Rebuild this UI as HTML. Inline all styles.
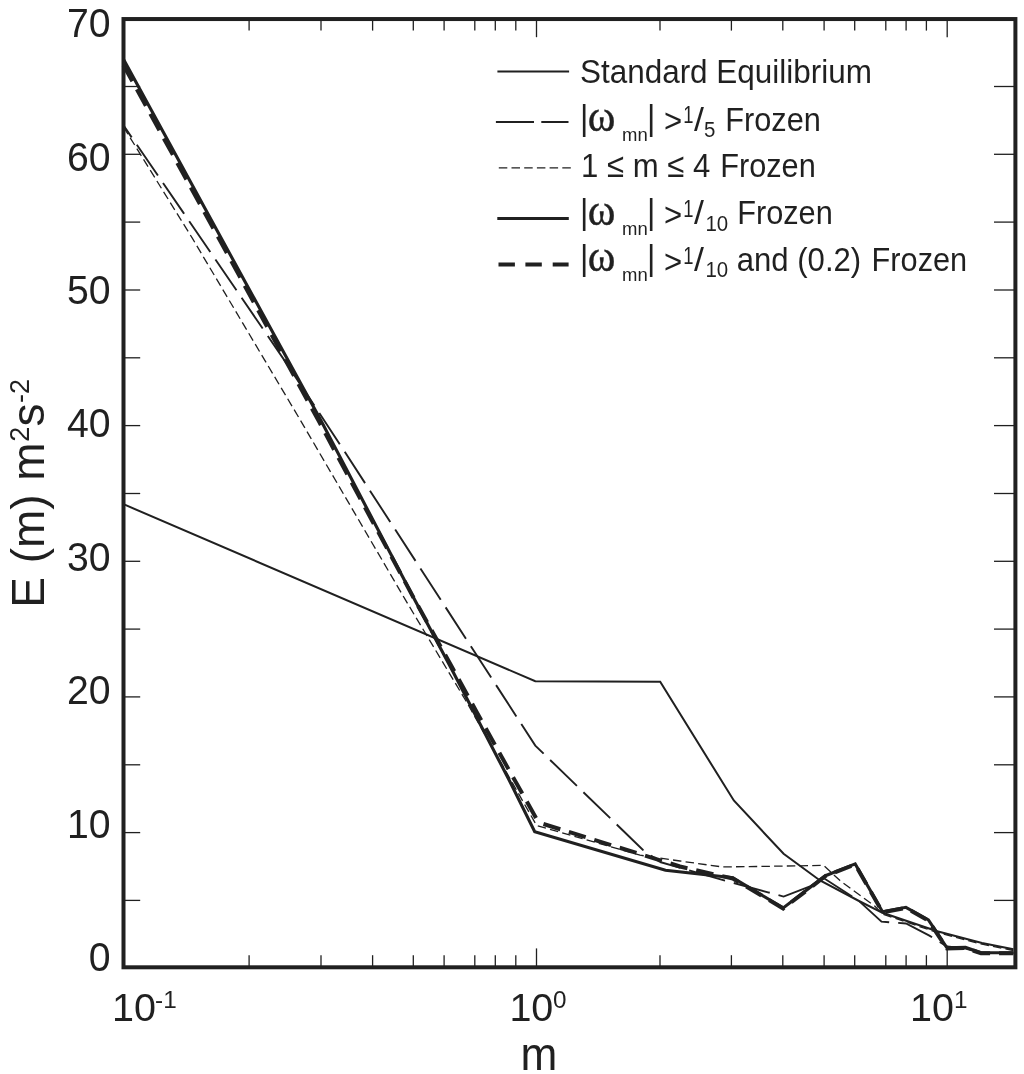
<!DOCTYPE html>
<html lang="en"><head><meta charset="utf-8"><title>E(m) spectrum</title>
<style>html,body{margin:0;padding:0;background:#fff}svg{display:block;filter:grayscale(1)}text{font-family:'Liberation Sans', sans-serif;fill:#231f20}</style></head><body>
<svg width="1024" height="1074" viewBox="0 0 1024 1074">
<rect width="1024" height="1074" fill="#fff"/>
<g stroke="#231f20" stroke-width="1.3" fill="none">
<path d="M123.5 900.4H140.2"/>
<path d="M994.0 900.4H1015.4"/>
<path d="M123.5 832.6H140.2"/>
<path d="M994.0 832.6H1015.4"/>
<path d="M123.5 764.8H140.2"/>
<path d="M994.0 764.8H1015.4"/>
<path d="M123.5 696.9H140.2"/>
<path d="M994.0 696.9H1015.4"/>
<path d="M123.5 629.1H140.2"/>
<path d="M994.0 629.1H1015.4"/>
<path d="M123.5 561.3H140.2"/>
<path d="M994.0 561.3H1015.4"/>
<path d="M123.5 493.5H140.2"/>
<path d="M994.0 493.5H1015.4"/>
<path d="M123.5 425.6H140.2"/>
<path d="M994.0 425.6H1015.4"/>
<path d="M123.5 357.8H140.2"/>
<path d="M994.0 357.8H1015.4"/>
<path d="M123.5 290.0H140.2"/>
<path d="M994.0 290.0H1015.4"/>
<path d="M123.5 222.1H140.2"/>
<path d="M994.0 222.1H1015.4"/>
<path d="M123.5 154.3H140.2"/>
<path d="M994.0 154.3H1015.4"/>
<path d="M123.5 86.5H140.2"/>
<path d="M994.0 86.5H1015.4"/>
<path d="M249.1 967.3V955.2"/>
<path d="M249.1 19.1V30.6"/>
<path d="M321.0 967.3V955.2"/>
<path d="M321.0 19.1V30.6"/>
<path d="M372.6 967.3V955.2"/>
<path d="M372.6 19.1V30.6"/>
<path d="M413.3 967.3V955.2"/>
<path d="M413.3 19.1V30.6"/>
<path d="M444.1 967.3V955.2"/>
<path d="M444.1 19.1V30.6"/>
<path d="M474.8 967.3V955.2"/>
<path d="M474.8 19.1V30.6"/>
<path d="M495.3 967.3V955.2"/>
<path d="M495.3 19.1V30.6"/>
<path d="M515.8 967.3V955.2"/>
<path d="M515.8 19.1V30.6"/>
<path d="M660.0 967.3V955.2"/>
<path d="M660.0 19.1V30.6"/>
<path d="M731.4 967.3V955.2"/>
<path d="M731.4 19.1V30.6"/>
<path d="M782.8 967.3V955.2"/>
<path d="M782.8 19.1V30.6"/>
<path d="M824.1 967.3V955.2"/>
<path d="M824.1 19.1V30.6"/>
<path d="M854.7 967.3V955.2"/>
<path d="M854.7 19.1V30.6"/>
<path d="M885.8 967.3V955.2"/>
<path d="M885.8 19.1V30.6"/>
<path d="M906.1 967.3V955.2"/>
<path d="M906.1 19.1V30.6"/>
<path d="M926.4 967.3V955.2"/>
<path d="M926.4 19.1V30.6"/>
<path d="M536.5 967.3V948.4"/>
<path d="M536.5 19.1V37.2"/>
<path d="M947.2 967.3V948.4"/>
<path d="M947.2 19.1V37.2"/>
</g>
<g fill="none" stroke="#231f20" stroke-linejoin="miter" stroke-miterlimit="10">
<path stroke-width="2" d="M123.5 504.2 L535.3 681.2 L660.2 681.8 L733.8 800.5 L783.6 853.8 L820.0 880.5 L859.0 901.0 L882.5 912.8 L937.2 931.3 L982.0 943.0 L1013.4 949.3"/>
<path stroke-width="1.9" stroke-dasharray="37.3 9.05" stroke-dashoffset="22.8" d="M123.5 125.4 L183.5 212.9 L286.0 362.6 L339.6 443.9 L427.9 580.0 L535.3 745.6 L643.0 849.9 L660.0 862.0"/>
<path stroke-width="1.9" stroke-dasharray="37.3 9.05" stroke-dashoffset="16.0" d="M660.0 862.0 L725.0 880.6 L768.0 892.3 L783.6 896.6 L810.0 886.4 L823.6 878.0 L859.0 901.0 L881.5 921.6 L906.0 923.5 L929.4 935.6 L947.0 946.5 L965.5 948.5 L981.0 953.0 L1013.4 953.0"/>
<path stroke-width="1.3" stroke-dasharray="8.5 4.2" d="M123.5 127.0 L192.3 238.2 L299.2 418.2 L405.0 599.2 L466.0 701.0 L536.6 825.5 L640.0 855.2 L680.0 861.0 L722.0 866.9 L757.0 866.5 L823.6 865.4 L840.0 880.6 L874.7 906.0 L882.5 914.0 L937.2 932.5 L982.0 944.2 L1013.4 950.5"/>
<path stroke-width="3.1" d="M123.5 59.2 L222.5 240.5 L320.7 420.0 L414.8 600.0 L453.0 671.8 L509.1 780.0 L534.7 831.7 L665.5 870.3 L732.8 877.7 L783.2 907.9 L825.5 875.7 L855.2 863.9 L882.5 911.8 L905.9 907.3 L928.4 920.0 L947.0 947.9 L965.5 947.3 L981.0 952.8 L1013.4 952.8"/>
<path stroke-width="4.0" stroke-dasharray="18.8 9.2" stroke-dashoffset="0.4" d="M123.5 65.2 L221.0 242.3 L318.9 421.3 L361.0 500.0 L414.8 600.0 L451.4 666.0 L477.2 713.0 L504.5 762.0 L538.6 822.5"/>
<path stroke-width="4.0" stroke-dasharray="17.6 9.0" stroke-dashoffset="21.5" d="M538.6 822.5 L680.0 866.5 L732.8 878.5 L783.2 908.5 L825.5 876.0 L855.2 864.5 L882.5 912.2 L905.9 908.0 L928.4 920.5 L947.0 948.5 L965.5 948.0 L981.0 953.2 L1013.4 953.2"/>
</g>
<rect x="123.50" y="19.05" width="891.90" height="948.25" fill="none" stroke="#231f20" stroke-width="4.0"/>
<text transform="translate(110.7,37.2) scale(0.972,1)" font-size="40.4" text-anchor="end">70</text>
<text transform="translate(110.7,170.6) scale(0.972,1)" font-size="40.4" text-anchor="end">60</text>
<text transform="translate(110.7,304.0) scale(0.972,1)" font-size="40.4" text-anchor="end">50</text>
<text transform="translate(110.7,437.4) scale(0.972,1)" font-size="40.4" text-anchor="end">40</text>
<text transform="translate(110.7,570.8) scale(0.972,1)" font-size="40.4" text-anchor="end">30</text>
<text transform="translate(110.7,704.2) scale(0.972,1)" font-size="40.4" text-anchor="end">20</text>
<text transform="translate(110.7,837.6) scale(0.972,1)" font-size="40.4" text-anchor="end">10</text>
<text transform="translate(110.7,971.0) scale(0.972,1)" font-size="40.4" text-anchor="end">0</text>
<text x="112.0" y="1021.2" font-size="39.5">10</text>
<text x="155.1" y="1007.9" font-size="24.3">-1</text>
<text x="509.4" y="1021.2" font-size="39.5">10</text>
<text x="553.0" y="1007.9" font-size="24.3">0</text>
<text x="910.0" y="1021.2" font-size="39.5">10</text>
<text x="954.0" y="1007.9" font-size="24.3">1</text>
<text transform="translate(520.4,1070.4) scale(0.97,1)" font-size="45.6">m</text>
<g transform="translate(0,606.8) rotate(-90)">
<text x="-1.0" y="43.6" font-size="46">E</text>
<text x="43.5" y="43.6" font-size="46">(m)</text>
<text x="126.0" y="43.6" font-size="46">m</text>
<text x="165.0" y="29.0" font-size="27">2</text>
<text x="180.4" y="43.6" font-size="46">s</text>
<text x="203.9" y="29.0" font-size="27">-2</text>
</g>
<g fill="none" stroke="#231f20">
<path stroke-width="2" d="M497.4 71.6H569.1"/>
<path stroke-width="1.9" d="M495.9 122H534M541.3 122H568.5"/>
<path stroke-width="1.3" stroke-dasharray="8.5 4.2" d="M498.8 167.8H571.7"/>
<path stroke-width="3" d="M497.3 218.6H568.8"/>
<path stroke-width="4.1" d="M498.5 264.5H514.9M525.4 264.5H541.8M552.7 264.5H568.6"/>
</g>
<text transform="translate(579.9,83.2) scale(0.926,1.000)" font-size="34.0">Standard Equilibrium</text>
<text transform="translate(579.9,130.1) scale(0.915,1.000)" font-size="35.1">|</text>
<text transform="translate(587.8,130.9) scale(0.965,1.000)" font-size="43.5" style="font-family:'Liberation Serif', serif" stroke="#231f20" stroke-width="0.45">&#969;</text>
<text x="622.0" y="141.1" font-size="18.5">mn</text>
<text transform="translate(647.1,130.1) scale(0.915,1.000)" font-size="35.1">|</text>
<text transform="translate(664.0,132.4) scale(0.915,1.000)" font-size="34.0">&gt;</text>
<text transform="translate(683.2,123.2) scale(0.800,1.000)" font-size="23.0">1</text>
<text transform="translate(694.1,130.6) scale(1.050,1.000)" font-size="34.0">/</text>
<text transform="translate(703.9,137.0) scale(0.930,1.000)" font-size="22.0">5</text>
<text transform="translate(725.3,130.6) scale(0.903,1.000)" font-size="34.0">Frozen</text>
<text transform="translate(581.0,176.6) scale(0.915,1.000)" font-size="34.0">1 ≤ m ≤ 4</text>
<text transform="translate(720.2,176.6) scale(0.903,1.000)" font-size="34.0">Frozen</text>
<text transform="translate(579.9,223.7) scale(0.915,1.000)" font-size="35.1">|</text>
<text transform="translate(587.8,224.5) scale(0.965,1.000)" font-size="43.5" style="font-family:'Liberation Serif', serif" stroke="#231f20" stroke-width="0.45">&#969;</text>
<text x="622.0" y="234.7" font-size="18.5">mn</text>
<text transform="translate(647.1,223.7) scale(0.915,1.000)" font-size="35.1">|</text>
<text transform="translate(664.0,226.0) scale(0.915,1.000)" font-size="34.0">&gt;</text>
<text transform="translate(683.2,216.8) scale(0.800,1.000)" font-size="23.0">1</text>
<text transform="translate(694.1,224.2) scale(1.050,1.000)" font-size="34.0">/</text>
<text transform="translate(705.4,230.6) scale(0.930,1.000)" font-size="22.0">10</text>
<text transform="translate(737.2,224.2) scale(0.903,1.000)" font-size="34.0">Frozen</text>
<text transform="translate(579.9,270.4) scale(0.915,1.000)" font-size="35.1">|</text>
<text transform="translate(587.8,271.2) scale(0.965,1.000)" font-size="43.5" style="font-family:'Liberation Serif', serif" stroke="#231f20" stroke-width="0.45">&#969;</text>
<text x="622.0" y="281.4" font-size="18.5">mn</text>
<text transform="translate(647.1,270.4) scale(0.915,1.000)" font-size="35.1">|</text>
<text transform="translate(664.0,272.7) scale(0.915,1.000)" font-size="34.0">&gt;</text>
<text transform="translate(683.2,263.5) scale(0.800,1.000)" font-size="23.0">1</text>
<text transform="translate(694.1,270.9) scale(1.050,1.000)" font-size="34.0">/</text>
<text transform="translate(705.4,277.3) scale(0.930,1.000)" font-size="22.0">10</text>
<text transform="translate(736.7,270.9) scale(0.915,1.000)" font-size="34.0">and (0.2)</text>
<text transform="translate(871.6,270.9) scale(0.903,1.000)" font-size="34.0">Frozen</text>
</svg></body></html>
